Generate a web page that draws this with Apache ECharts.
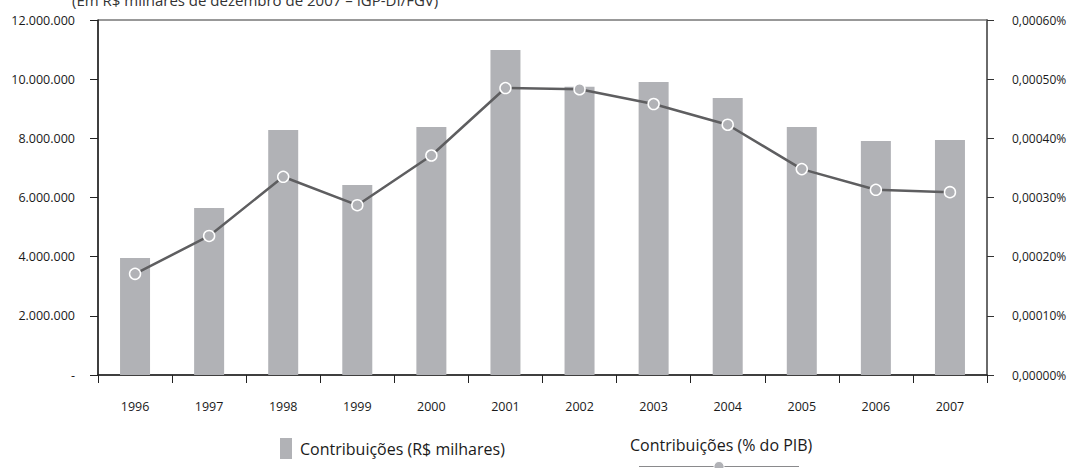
<!DOCTYPE html>
<html>
<head>
<meta charset="utf-8">
<script src="https://cdn.jsdelivr.net/npm/echarts@6/dist/echarts.min.js"></script>
<style>
  html, body { margin: 0; padding: 0; background: #fff; }
  #chart { width: 1070px; height: 468px; }
</style>
</head>
<body>
<div id="chart"></div>
<script>
// Contribuições por ano: valores em R$ milhares (barras) e em % do PIB (linha)
const years = ['1996', '1997', '1998', '1999', '2000', '2001', '2002', '2003', '2004', '2005', '2006', '2007'];
const contribMilhares = [3955000, 5645000, 8280000, 6420000, 8380000, 10990000, 9740000, 9905000, 9360000, 8380000, 7910000, 7940000];
const contribPctPib = [0.000171, 0.000235, 0.000335, 0.000287, 0.000371, 0.000485, 0.000483, 0.000458, 0.000423, 0.000348, 0.000313, 0.000309];

const FONT = '"Open Sans", "Noto Sans", sans-serif';
const TEXT = '#1a1a1a';
const BAR = '#b1b2b6';
const LINE = '#5e5e60';

function fmtMilhares(v) {
  if (v === 0) return '-';
  return String(Math.round(v)).replace(/\B(?=(\d{3})+(?!\d))/g, '.');
}
function fmtPct(v) {
  return v.toFixed(5).replace('.', ',') + '%';
}

const chart = echarts.init(document.getElementById('chart'), null, { renderer: 'svg' });

chart.setOption({
  backgroundColor: '#fff',
  animation: false,
  title: {
    text: '(Em R$ milhares de dezembro de 2007 – IGP-DI/FGV)',
    left: 67,
    top: -13,
    textStyle: { fontFamily: FONT, fontSize: 15, fontWeight: 'normal', color: '#333' }
  },
  legend: [
    {
      data: ['Contribuições (R$ milhares)'],
      left: 275,
      top: 433,
      itemWidth: 12,
      itemHeight: 21,
      icon: 'rect',
      textStyle: { fontFamily: FONT, fontSize: 16, color: TEXT, padding: [0, 0, 0, 3] }
    },
    {
      data: ['Contribuições (% do PIB)'],
      left: 619,
      top: 432,
      itemWidth: 0,
      itemHeight: 0,
      icon: 'rect',
      textStyle: { fontFamily: FONT, fontSize: 16, color: TEXT }
    }
  ],
  graphic: [
    {
      type: 'line',
      shape: { x1: 639, y1: 466.5, x2: 799, y2: 466.5 },
      style: { stroke: '#8a8a8c', lineWidth: 1 }
    },
    {
      type: 'circle',
      shape: { cx: 719, cy: 466.5, r: 5 },
      style: { fill: BAR, stroke: '#fff', lineWidth: 1 }
    }
  ],
  grid: {
    left: 98,
    right: 83,
    top: 20,
    bottom: 93,
    show: true,
    borderColor: '#333',
    borderWidth: 1
  },
  xAxis: {
    type: 'category',
    data: years,
    boundaryGap: true,
    axisLine: { lineStyle: { color: '#222', width: 1.5 } },
    axisTick: { show: true, length: 8, alignWithLabel: false, lineStyle: { color: '#222', width: 1 } },
    axisLabel: { fontFamily: FONT, fontSize: 12.5, color: TEXT, margin: 25 },
    splitLine: { show: false }
  },
  yAxis: [
    {
      type: 'value',
      min: 0,
      max: 12000000,
      interval: 2000000,
      position: 'left',
      axisLine: { show: true, lineStyle: { color: '#222', width: 1.5 } },
      axisTick: { show: true, length: 8, lineStyle: { color: '#222', width: 1 } },
      axisLabel: { fontFamily: FONT, fontSize: 12.5, color: TEXT, margin: 23, formatter: fmtMilhares },
      splitLine: { show: false }
    },
    {
      type: 'value',
      min: 0,
      max: 0.0006,
      interval: 0.0001,
      position: 'right',
      axisLine: { show: true, lineStyle: { color: '#6a6a6a', width: 2 } },
      axisTick: { show: true, length: 7, lineStyle: { color: '#333', width: 1 } },
      axisLabel: { fontFamily: FONT, fontSize: 12, color: TEXT, margin: 25, formatter: fmtPct },
      splitLine: { show: false }
    }
  ],
  series: [
    {
      name: 'Contribuições (R$ milhares)',
      type: 'bar',
      yAxisIndex: 0,
      data: contribMilhares,
      barWidth: 30,
      itemStyle: { color: BAR },
      z: 2
    },
    {
      name: 'Contribuições (% do PIB)',
      type: 'line',
      yAxisIndex: 1,
      data: contribPctPib,
      symbol: 'circle',
      symbolSize: 11,
      lineStyle: { color: LINE, width: 2.5 },
      itemStyle: { color: BAR, borderColor: '#fff', borderWidth: 1.5 },
      z: 3
    }
  ]
});
</script>
</body>
</html>
